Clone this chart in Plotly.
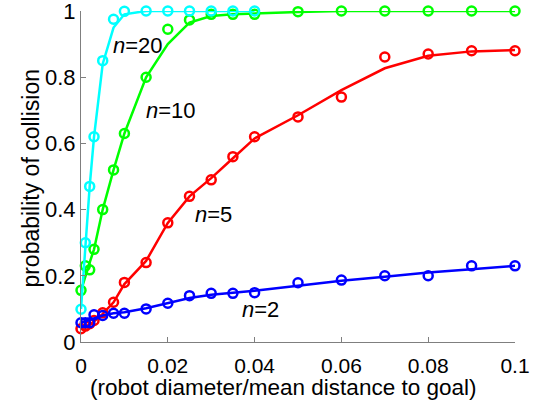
import plotly.graph_objects as go

# x sample points
x_pts = [0, 0.001, 0.002, 0.003, 0.005, 0.0075, 0.01, 0.015, 0.02, 0.025, 0.03,
         0.035, 0.04, 0.05, 0.06, 0.07, 0.08, 0.09, 0.1]

# measured (markers)
n2_mark = [0.058, 0.058, 0.058, 0.082, 0.080, 0.087, 0.087, 0.100, 0.117, 0.140, 0.147,
           0.147, 0.149, 0.179, 0.187, 0.200, 0.200, 0.230, 0.230]
n5_mark = [0.040, 0.048, 0.055, 0.065, 0.088, 0.120, 0.180, 0.240, 0.360, 0.440, 0.490,
           0.560, 0.620, 0.680, 0.740, 0.861, 0.870, 0.880, 0.880]
n10_mark = [0.156, 0.230, 0.218, 0.280, 0.400, 0.520, 0.630, 0.800, 0.945, 0.973, 0.990,
            0.990, 0.990, 0.998, 1.0, 1.0, 1.0, 1.0, 1.0]
x20 = x_pts[:13]
n20_mark = [0.099, 0.300, 0.470, 0.620, 0.850, 0.975, 0.999, 1.0, 1.0, 1.0, 1.0, 1.0, 1.0]

# fitted curves (lines)
n2_line = [0.058, 0.062, 0.066, 0.072, 0.080, 0.087, 0.090, 0.102, 0.118, 0.133, 0.143,
           0.149, 0.155, 0.170, 0.185, 0.197, 0.210, 0.220, 0.230]
n5_line = [0.040, 0.046, 0.053, 0.062, 0.085, 0.120, 0.175, 0.245, 0.360, 0.440, 0.495,
           0.555, 0.615, 0.685, 0.761, 0.827, 0.865, 0.878, 0.882]
n10_line = [0.155, 0.200, 0.240, 0.280, 0.400, 0.520, 0.630, 0.800, 0.900, 0.965, 0.985,
            0.990, 0.993, 0.997, 1.0, 1.0, 1.0, 1.0, 1.0]
n20_line = [0.100, 0.300, 0.470, 0.620, 0.840, 0.950, 0.990, 1.0, 1.0, 1.0, 1.0, 1.0, 1.0]

x_ticks = [0, 0.02, 0.04, 0.06, 0.08, 0.1]
x_tick_labels = ["0", "0.02", "0.04", "0.06", "0.08", "0.1"]
y_ticks = [0, 0.2, 0.4, 0.6, 0.8, 1]
y_tick_labels = ["0", "0.2", "0.4", "0.6", "0.8", "1"]

labels = ["<i>n</i>=20", "<i>n</i>=10", "<i>n</i>=5", "<i>n</i>=2"]
label_x = [0.0068, 0.0146, 0.0258, 0.0367]
label_y = [0.895, 0.700, 0.385, 0.097]

x_title = "(robot diameter/mean distance to goal)"
y_title = "probability of collision"

FONT = "Liberation Sans, Arial, Helvetica, sans-serif"
L, R, T, B = 80.5, 26.5, 11, 61
W, H = 542, 403
PW, PH = W - L - R, H - T - B

fig = go.Figure()
series = [
    (x_pts, n5_line, n5_mark, "#ff0000"),
    (x_pts, n10_line, n10_mark, "#00ff00"),
    (x20, n20_line, n20_mark, "#00ffff"),
    (x_pts, n2_line, n2_mark, "#0000ff"),
]
for xs, yl, ym, c in series:
    fig.add_trace(go.Scatter(x=xs, y=yl, mode="lines", line=dict(color=c, width=2.5),
                             showlegend=False, cliponaxis=False, hoverinfo="skip"))
    fig.add_trace(go.Scatter(x=xs, y=ym, mode="markers",
                             marker=dict(symbol="circle-open", size=9, color=c,
                                         line=dict(width=2.5, color=c)),
                             showlegend=False, cliponaxis=False))

for t, lx, ly in zip(labels, label_x, label_y):
    fig.add_annotation(x=lx, y=ly, text=t, showarrow=False, xanchor="left",
                       yanchor="middle", font=dict(family=FONT, size=22, color="black"))

# axis titles as paper-positioned annotations
fig.add_annotation(xref="paper", yref="paper", x=(282.5 - L) / PW, y=(H - B - 387) / PH,
                   text=x_title, showarrow=False, xanchor="center", yanchor="middle",
                   font=dict(family=FONT, size=22.5, color="black"))
fig.add_annotation(xref="paper", yref="paper", x=(30 - L) / PW, y=(H - B - 178) / PH,
                   text=y_title, showarrow=False, textangle=-90, xanchor="center",
                   yanchor="middle", font=dict(family=FONT, size=23, color="black"))

fig.update_layout(
    width=W, height=H,
    margin=dict(l=L, r=R, t=T, b=B),
    plot_bgcolor="white", paper_bgcolor="white",
    font=dict(family=FONT, size=21, color="black"),
)
fig.update_xaxes(range=[0, 0.1], tickvals=x_ticks, ticktext=x_tick_labels, automargin=False,
                 showgrid=False, zeroline=False, showline=True, linecolor="#7f7f7f",
                 linewidth=1, ticks="inside", ticklen=5, tickcolor="#7f7f7f",
                 tickfont=dict(size=21), ticklabeloverflow="allow", ticklabelstandoff=5)
fig.update_yaxes(range=[0, 1], tickvals=y_ticks, ticktext=y_tick_labels, automargin=False,
                 showgrid=False, zeroline=False, showline=True, linecolor="#7f7f7f",
                 linewidth=1, ticks="inside", ticklen=5, tickcolor="#7f7f7f",
                 tickfont=dict(size=22), ticklabeloverflow="allow")

fig.write_html("out.html", config={"displayModeBar": False},
               post_script="document.body.style.margin='0';")
